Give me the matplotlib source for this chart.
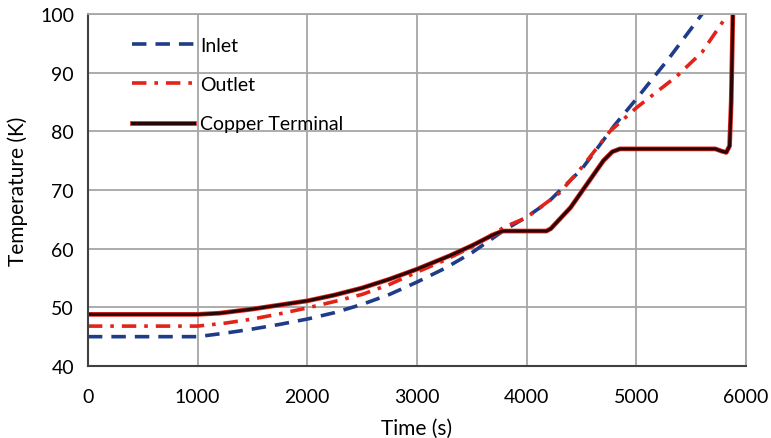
import numpy as np
import matplotlib
matplotlib.use("Agg")
from matplotlib import pyplot as plt
import matplotlib.patheffects as pe

plt.rcParams['font.family'] = ['Lato', 'DejaVu Sans']

# inlet temperature
t_inlet = [0, 1000, 1250, 1500, 1750, 2000, 2250, 2500, 2750, 3000, 3250, 3500, 3800, 4000,
           4200, 4500, 4800, 5000, 5300, 5600]
T_inlet = [45, 45, 45.6, 46.3, 47.1, 48, 49.1, 50.5, 52.2, 54.3, 56.6, 59.3, 63.2, 65.4,
           68.0, 73.5, 81.0, 85.5, 92.5, 100]

# outlet temperature
t_outlet = [0, 1000, 1250, 1500, 1750, 2000, 2250, 2500, 2750, 3000, 3250, 3500, 3800, 4000,
            4300, 4500, 4760, 5000, 5370, 5600, 5800]
T_outlet = [46.8, 46.8, 47.3, 48.0, 48.9, 49.9, 51.0, 52.2, 53.9, 56.0, 58.0, 60.3, 63.7, 65.3,
            69.5, 73.8, 80.0, 84.0, 89.4, 93.5, 99.0]

# copper terminal temperature
t_copper = [0, 1000, 1200, 1500, 1750, 2000, 2250, 2500, 2750, 3000, 3300, 3500, 3700, 3780,
            4000, 4180, 4220, 4300, 4400, 4550, 4700, 4780, 4850, 5000, 5500, 5720, 5780,
            5820, 5850, 5865, 5880]
T_copper = [48.8, 48.8, 49.0, 49.7, 50.4, 51.1, 52.1, 53.3, 54.8, 56.5, 58.8, 60.5, 62.4, 63.0,
            63.0, 63.0, 63.4, 65.0, 67.0, 71.0, 75.0, 76.5, 77.0, 77.0, 77.0, 77.0, 76.6,
            76.4, 77.5, 85.0, 100]

fig = plt.figure(figsize=(7.71, 4.39), dpi=100)
ax = fig.add_axes([0.114, 0.164, 0.8536, 0.802])

ax.plot(t_inlet, T_inlet, color='#1f3c88', lw=2.6, dashes=(4, 2.5), label='Inlet')
ax.plot(t_outlet, T_outlet, color='#e2231a', lw=2.6, dashes=(4, 2.2, 1, 2.2), label='Outlet')
ax.plot(t_copper, T_copper, color='#2a0505', lw=2.2, label='Copper Terminal',
        path_effects=[pe.Stroke(linewidth=3.4, foreground='#e2231a'), pe.Normal()])

ax.set_xlim(0, 6000)
ax.set_ylim(40, 100)
ax.set_xticks(np.arange(0, 6001, 1000))
ax.set_yticks(np.arange(40, 101, 10))
ax.grid(True, color='#a6a6a6', lw=1.3)
ax.set_axisbelow(True)
ax.tick_params(length=0, labelsize=14)
ax.tick_params(axis='x', pad=16)
ax.tick_params(axis='y', pad=10)
for s in ['top', 'right']:
    ax.spines[s].set_color('#a6a6a6')
    ax.spines[s].set_linewidth(1.3)
for s in ['left', 'bottom']:
    ax.spines[s].set_color('#404040')
    ax.spines[s].set_linewidth(1.5)

ax.set_xlabel('Time (s)', fontsize=15, labelpad=9)
ax.set_ylabel('Temperature (K)', fontsize=15, labelpad=9)

ax.legend(loc='upper left', bbox_to_anchor=(0.04, 0.985), frameon=False, fontsize=14,
          handlelength=3.2, handletextpad=0.3, labelspacing=1.15)

fig.savefig('out.png', dpi=100)
